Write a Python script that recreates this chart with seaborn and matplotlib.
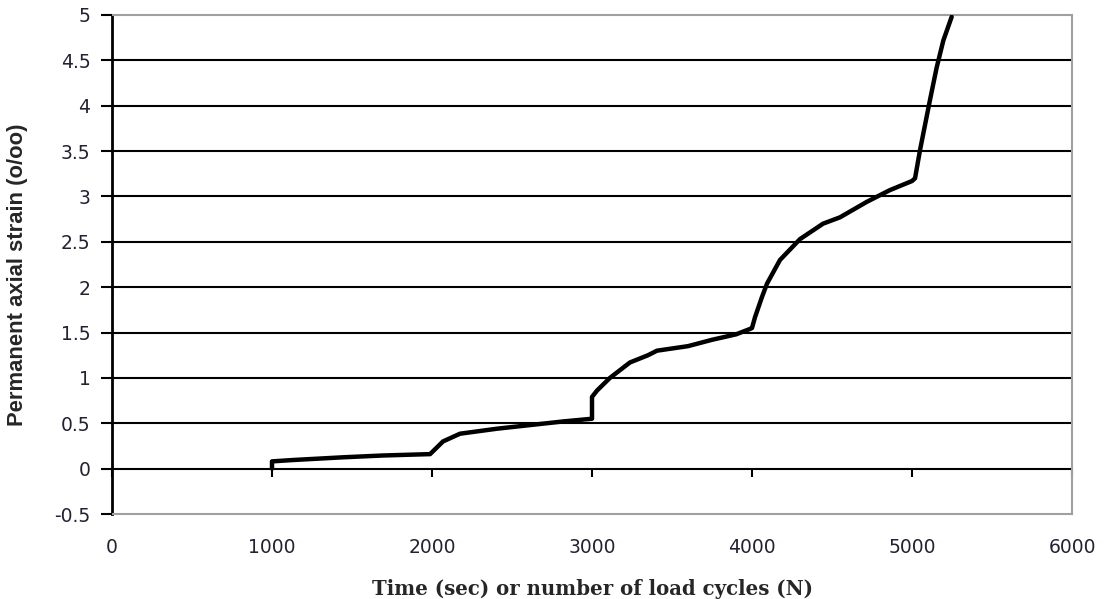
import matplotlib
matplotlib.use("Agg")
import matplotlib.pyplot as plt
import seaborn as sns
import pandas as pd

# Data
cycles = [1000, 1000, 1131, 1444, 1694, 1988, 2069, 2175, 2406, 2612, 2819, 3000,
          3000, 3031, 3112, 3237, 3350, 3406, 3600, 3750, 3900, 3988, 4000, 4019,
          4062, 4094, 4175, 4300, 4444, 4550, 4717, 4862, 5000, 5019, 5050, 5112,
          5154, 5196, 5248]
strain = [0.0, 0.08, 0.095, 0.125, 0.145, 0.16, 0.30, 0.385, 0.44, 0.48, 0.52, 0.55,
          0.79, 0.86, 1.0, 1.17, 1.25, 1.30, 1.35, 1.42, 1.48, 1.54, 1.55, 1.67,
          1.89, 2.04, 2.30, 2.53, 2.70, 2.77, 2.94, 3.07, 3.17, 3.20, 3.51, 4.06,
          4.42, 4.72, 4.98]
x_ticks = [0, 1000, 2000, 3000, 4000, 5000, 6000]
y_ticks = [-0.5, 0, 0.5, 1, 1.5, 2, 2.5, 3, 3.5, 4, 4.5, 5]
y_tick_labels = ["-0.5", "0", "0.5", "1", "1.5", "2", "2.5", "3", "3.5", "4", "4.5", "5"]

df = pd.DataFrame({"cycles": cycles, "strain": strain})

sns.set_style("white")
plt.rcParams["font.family"] = ["Liberation Sans", "DejaVu Sans"]

fig = plt.figure(figsize=(11.04, 5.99), dpi=100)
ax = fig.add_axes([112 / 1104, 1 - 514 / 599, (1072 - 112) / 1104, (514 - 15) / 599])

# horizontal gridlines
for yv in y_ticks[1:-1]:
    ax.axhline(yv, color="black", lw=1.5, zorder=1)

sns.lineplot(data=df, x="cycles", y="strain", sort=False, estimator=None,
             color="black", lw=3.2, ax=ax, zorder=3)

ax.set_xlim(0, 6000)
ax.set_ylim(-0.5, 5)
ax.set_xticks(x_ticks)
ax.set_yticks(y_ticks)
ax.set_yticklabels(y_tick_labels, family=["DejaVu Sans"])
ax.set_xticklabels([str(v) for v in x_ticks], family=["DejaVu Sans"])
ax.tick_params(axis="x", length=0, labelsize=13.5, pad=17, colors="#222233")
ax.tick_params(axis="y", length=0, labelsize=13.5, pad=15.5, colors="#222233")

# tick marks: left of the y axis and below the zero line
ax.plot([0] * len(y_ticks), y_ticks, linestyle="none", marker=0, markersize=8,
        markeredgewidth=1.5, color="black", clip_on=False, zorder=4)
ax.plot(x_ticks, [0] * len(x_ticks), linestyle="none", marker=3, markersize=6,
        markeredgewidth=1.5, color="black", clip_on=False, zorder=2)

for side in ["top", "right", "bottom"]:
    ax.spines[side].set_color("#a0a0a0")
    ax.spines[side].set_linewidth(1.5)
ax.spines["left"].set_color("black")
ax.spines["left"].set_linewidth(2)

ax.set_xlabel("Time (sec) or number of load cycles (N)", family=["DejaVu Serif"],
              fontweight="bold", fontsize=14.2, labelpad=16)
ax.set_ylabel("Permanent axial strain (o/oo)", fontweight="bold", fontsize=15.8)
ax.yaxis.set_label_coords(-0.087, 0.48)

fig.savefig("out.png", dpi=100)
